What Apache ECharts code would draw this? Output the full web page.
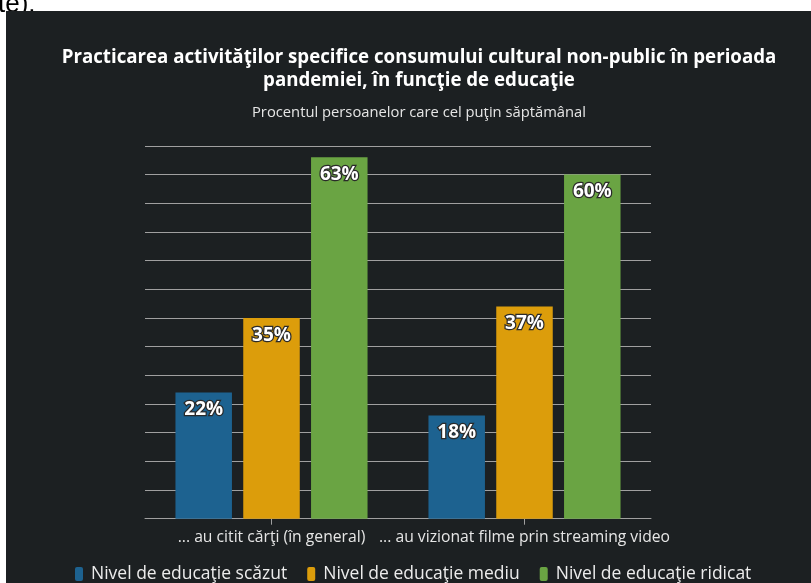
<!DOCTYPE html>
<html>
<head>
<meta charset="utf-8">
<script src="https://cdn.jsdelivr.net/npm/echarts@6/dist/echarts.min.js"></script>
<style>
html,body{margin:0;padding:0;background:#ffffff;}
#chart{width:811px;height:583px;}
</style>
</head>
<body>
<div id="chart"></div>
<script>
const categories = ['... au citit cărţi (în general)', '... au vizionat filme prin streaming video'];
const seriesNames = ['Nivel de educaţie scăzut', 'Nivel de educaţie mediu', 'Nivel de educaţie ridicat'];
const lowValues = [22, 18];
const midValues = [35, 37];
const highValues = [63, 60];
const titleText = 'Practicarea activităţilor specifice consumului cultural non-public în perioada\npandemiei, în funcţie de educaţie';
const subtitleText = 'Procentul persoanelor care cel puţin săptămânal';
const colors = ['#1d6290', '#dc9d0b', '#6aa443'];

const chart = echarts.init(document.getElementById('chart'));
const labelStyle = {
  show: true,
  position: 'insideTop',
  distance: 8,
  formatter: '{c}%',
  color: '#ffffff',
  fontFamily: 'Open Sans',
  fontWeight: 'bold',
  fontSize: 19,
  textBorderColor: '#2a2a2a',
  textBorderWidth: 2.5
};
const values = [lowValues, midValues, highValues];
chart.setOption({
  backgroundColor: '#ffffff',
  animation: false,
  graphic: [
    { type: 'text', z: -20, left: -2, top: -8, style: { text: 'te).', font: '26px "Liberation Sans"', fill: '#000' } },
    { type: 'rect', z: -10, shape: { x: 6, y: 11, width: 811, height: 600 }, style: { fill: '#1c2022' } },
    { type: 'text', z: 10, x: 419, y: 69.5, style: { text: titleText, font: 'bold 18.7px "Open Sans"', fill: '#ffffff', align: 'center', verticalAlign: 'middle', lineHeight: 23 } },
    { type: 'text', z: 10, x: 419, y: 113, style: { text: subtitleText, font: '14.75px "Open Sans"', fill: '#e6e6e6', align: 'center', verticalAlign: 'middle' } }
  ],
  legend: {
    top: 560,
    left: 70,
    itemWidth: 8,
    itemHeight: 14,
    itemGap: 20,
    icon: 'roundRect',
    textStyle: { color: '#ececec', fontSize: 17.5, fontFamily: 'Open Sans', padding: [0, 0, 0, 3] },
    data: seriesNames
  },
  grid: { left: 145, right: 160, top: 145.8, bottom: 64.3 },
  xAxis: {
    type: 'category',
    data: categories,
    axisLine: { show: true, lineStyle: { color: '#a0a0a0', width: 1 } },
    axisTick: { show: true, alignWithLabel: true, length: 6, lineStyle: { color: '#a0a0a0' } },
    axisLabel: { color: '#e6e6e6', fontSize: 15.7, fontFamily: 'Open Sans', margin: 11, interval: 0 }
  },
  yAxis: {
    type: 'value',
    min: 0,
    max: 65,
    interval: 5,
    axisLabel: { show: false },
    axisLine: { show: false },
    axisTick: { show: false },
    splitLine: { show: true, lineStyle: { color: '#a0a0a0', width: 1 } }
  },
  series: seriesNames.map((n, i) => ({
    name: n,
    type: 'bar',
    data: values[i],
    barWidth: 56.5,
    barGap: '20%',
    itemStyle: { color: colors[i] },
    label: labelStyle
  }))
});
</script>
</body>
</html>
